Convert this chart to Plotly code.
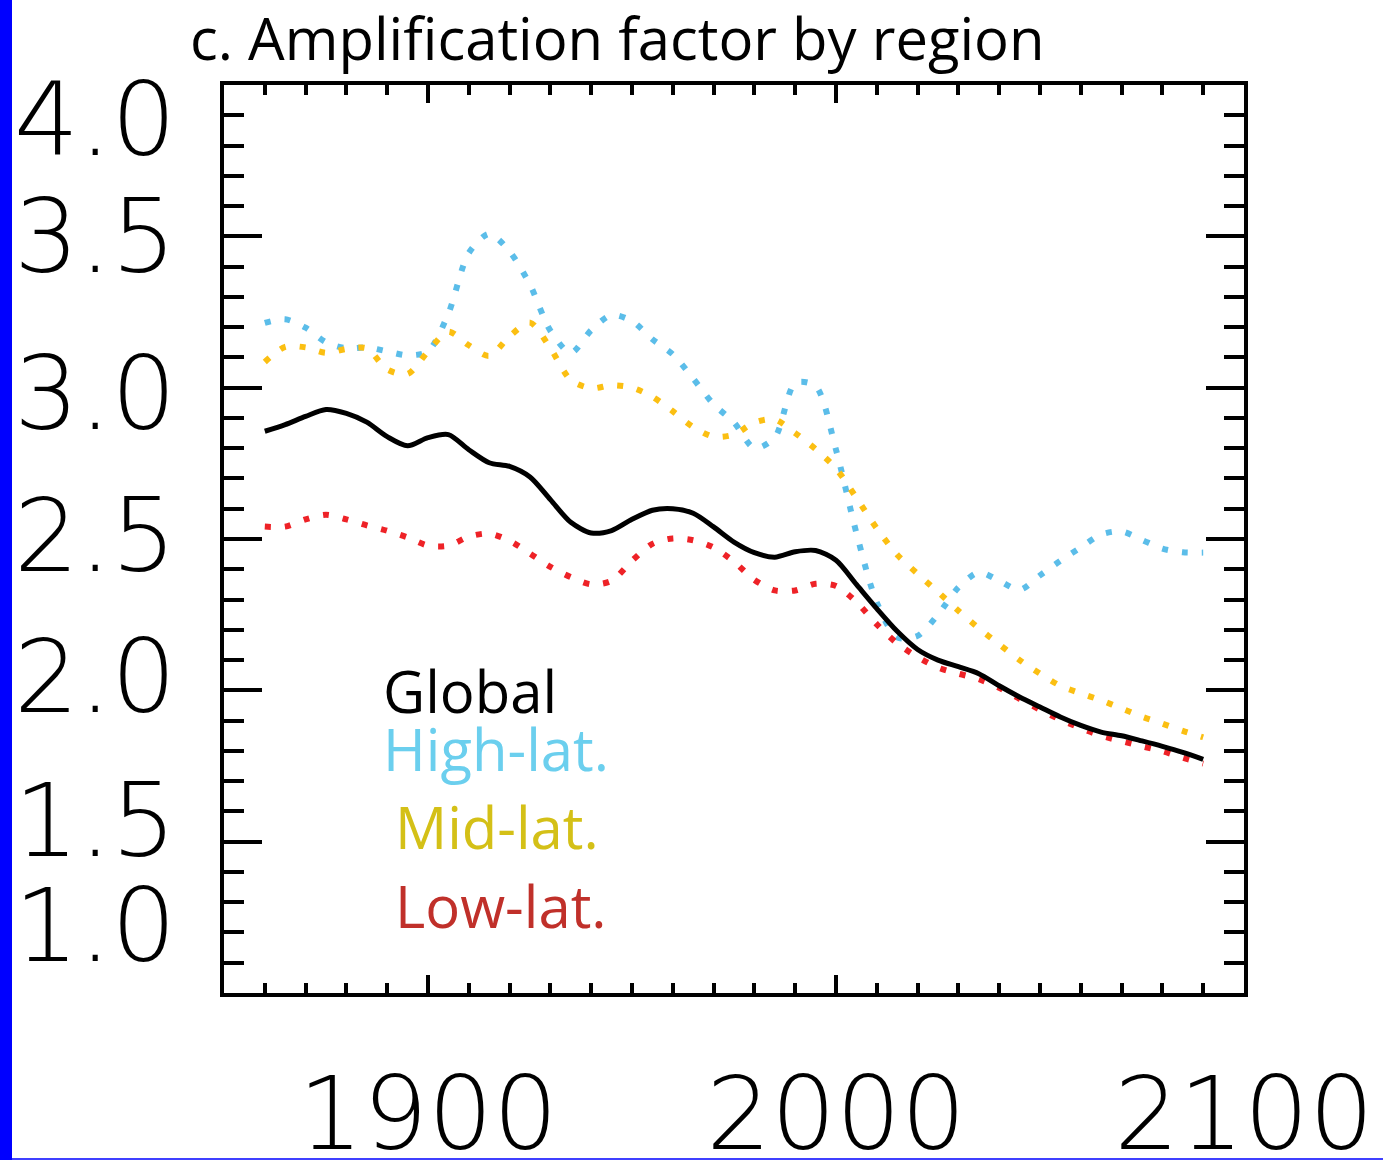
import plotly.graph_objects as go

years = list(range(1860, 2091, 5))

global_af = [2.856, 2.878, 2.905, 2.928, 2.915, 2.886, 2.838, 2.808, 2.835, 2.845,
             2.795, 2.752, 2.740, 2.705, 2.630, 2.555, 2.520, 2.528, 2.565, 2.595,
             2.600, 2.585, 2.540, 2.490, 2.455, 2.440, 2.458, 2.462, 2.430, 2.350,
             2.270, 2.195, 2.135, 2.100, 2.078, 2.055, 2.015, 1.978, 1.945, 1.912,
             1.884, 1.862, 1.850, 1.833, 1.815, 1.795, 1.772]

high_lat = [3.214, 3.226, 3.198, 3.150, 3.130, 3.133, 3.120, 3.107, 3.120, 3.245,
            3.445, 3.508, 3.450, 3.340, 3.188, 3.115, 3.190, 3.240, 3.220, 3.160,
            3.110, 3.030, 2.945, 2.885, 2.800, 2.835, 3.015, 3.005, 2.795, 2.520,
            2.290, 2.175, 2.180, 2.250, 2.340, 2.390, 2.362, 2.332, 2.380, 2.428,
            2.472, 2.515, 2.525, 2.497, 2.468, 2.456, 2.455]

mid_lat = [3.085, 3.135, 3.133, 3.115, 3.128, 3.130, 3.060, 3.045, 3.120, 3.185,
           3.140, 3.105, 3.170, 3.215, 3.130, 3.025, 2.998, 3.008, 3.000, 2.970,
           2.922, 2.870, 2.838, 2.845, 2.885, 2.895, 2.850, 2.797, 2.733, 2.636,
           2.535, 2.448, 2.385, 2.325, 2.263, 2.205, 2.152, 2.100, 2.055, 2.015,
           1.990, 1.967, 1.940, 1.913, 1.890, 1.866, 1.845]

low_lat = [2.541, 2.541, 2.565, 2.580, 2.565, 2.545, 2.527, 2.505, 2.478, 2.478,
           2.508, 2.518, 2.494, 2.452, 2.408, 2.374, 2.350, 2.362, 2.428, 2.484,
           2.502, 2.496, 2.472, 2.425, 2.365, 2.330, 2.330, 2.352, 2.345, 2.292,
           2.218, 2.155, 2.110, 2.075, 2.055, 2.037, 2.008, 1.972, 1.936, 1.903,
           1.875, 1.850, 1.832, 1.815, 1.799, 1.777, 1.758]

y_tick_vals = [4.0, 3.5, 3.0, 2.5, 2.0, 1.5, 1.0]
y_tick_text = ["4.0", "3.5", "3.0", "2.5", "2.0", "1.5", "1.0"]
x_tick_vals = [1900, 2000, 2100]
x_tick_text = ["1900", "2000", "2100"]

legend_labels = ["Global", "High-lat.", "Mid-lat.", "Low-lat."]
legend_colors = ["#000000", "#6bcfee", "#d4c017", "#c0302a"]

title_text = "c. Amplification factor by region"

# figure geometry (pixels)
W, H = 1383, 1160
ML, MR, MT, MB = 224, 139, 85, 167
PW, PH = W - ML - MR, H - MT - MB


def px_to_paper(px, py):
    return (px - ML) / PW, (H - MB - py) / PH


fig = go.Figure()

dot = "6px,14px"
fig.add_trace(go.Scatter(x=years, y=high_lat, mode="lines", line=dict(color="#5bbde9", width=6, dash=dot, shape="spline", smoothing=0.8), showlegend=False))
fig.add_trace(go.Scatter(x=years, y=mid_lat, mode="lines", line=dict(color="#fbbf12", width=6, dash=dot, shape="spline", smoothing=0.8), showlegend=False))
fig.add_trace(go.Scatter(x=years, y=low_lat, mode="lines", line=dict(color="#ee2227", width=6, dash=dot, shape="spline", smoothing=0.8), showlegend=False))
fig.add_trace(go.Scatter(x=years, y=global_af, mode="lines", line=dict(color="#000000", width=5, shape="spline", smoothing=0.8), showlegend=False))

tick_font = dict(family="DejaVu Sans", size=102, color="#000000", weight=200)

fig.update_xaxes(
    range=[1850, 2100], showgrid=False, zeroline=False, automargin=False,
    showline=True, linecolor="#000000", linewidth=4, mirror="ticks",
    ticks="inside", tickmode="array", tickvals=x_tick_vals, ticktext=x_tick_text,
    ticklen=18, tickwidth=4, tickcolor="#000000",
    minor=dict(dtick=10, tick0=1850, ticks="inside", ticklen=10, tickwidth=4, tickcolor="#000000", showgrid=False),
    tickfont=tick_font, ticklabelstandoff=30,
)
fig.update_yaxes(
    range=[1.0, 4.0], showgrid=False, zeroline=False, automargin=False,
    showline=True, linecolor="#000000", linewidth=4, mirror="ticks",
    ticks="inside", tickmode="array", tickvals=y_tick_vals, ticktext=["" for _ in y_tick_vals],
    ticklen=38, tickwidth=4, tickcolor="#000000",
    minor=dict(dtick=0.1, tick0=1.0, ticks="inside", ticklen=20, tickwidth=4, tickcolor="#000000", showgrid=False),
)

# y tick labels (offset as in the original figure)
label_shifts = [-40, -6, -12, -2, 8, 15, 62]
annotations = []
for v, t, s in zip(y_tick_vals, y_tick_text, label_shifts):
    annotations.append(dict(x=0, xref="paper", y=v, yref="y", text=t, showarrow=False,
                            xanchor="right", yanchor="middle", xshift=-46, yshift=s + 6,
                            font=tick_font))

legend_pos = [(381, 690), (381, 748), (393, 826), (393, 905)]
for lab, col, (px, py) in zip(legend_labels, legend_colors, legend_pos):
    ax, ay = px_to_paper(px, py)
    annotations.append(dict(x=ax, xref="paper", y=ay, yref="paper",
                            text=lab, showarrow=False, xanchor="left", yanchor="middle",
                            font=dict(family="Open Sans", size=58, color=col)))

bx0, by0 = px_to_paper(0, H)
bx1, by1 = px_to_paper(12, 0)
lx1, ly = px_to_paper(W, H - 1)

fig.update_layout(
    width=W, height=H,
    margin=dict(l=ML, r=MR, t=MT, b=MB, autoexpand=False),
    paper_bgcolor="#ffffff", plot_bgcolor="#ffffff",
    title=dict(text=title_text, x=190 / W, xref="container", xanchor="left",
               y=1 - 40 / H, yref="container", yanchor="middle",
               font=dict(family="Open Sans", size=58, color="#000000")),
    annotations=annotations,
    shapes=[
        dict(type="rect", xref="paper", yref="paper", x0=bx0, x1=bx1, y0=by0, y1=by1,
             fillcolor="#0000ff", line=dict(width=0), layer="above"),
        dict(type="line", xref="paper", yref="paper", x0=bx0, x1=lx1, y0=ly, y1=ly,
             line=dict(color="#0000ff", width=1.5)),
    ],
)

fig.write_html("out.html")
